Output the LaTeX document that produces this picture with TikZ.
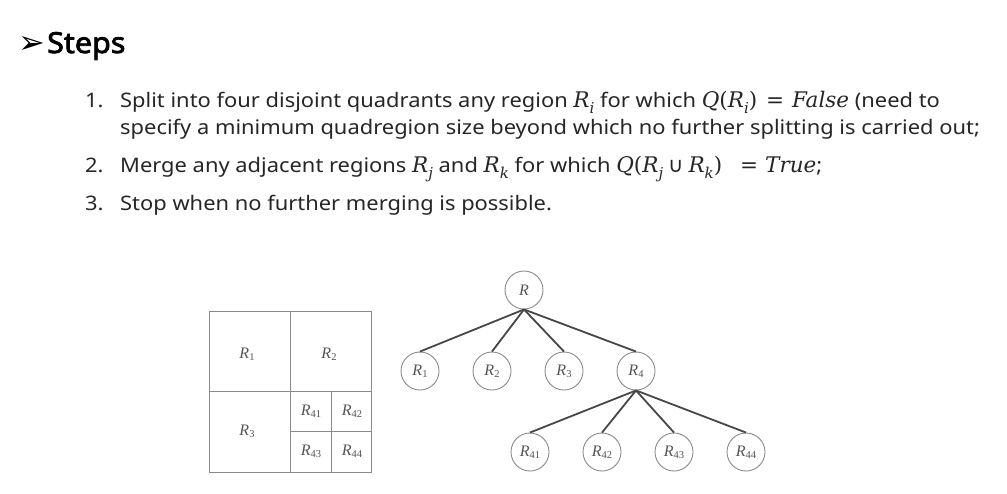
\documentclass[tikz,border=0pt]{standalone}
\usepackage{fontspec}
\setmainfont{Noto Sans}[FakeStretch=1.095]
\newfontfamily\titlef{Noto Sans}[FakeBold=2.6, FakeStretch=1.05]
\newfontfamily\dejavu{DejaVu Sans}
\newfontfamily\mathf{DejaVu Serif}
\newfontfamily\timesf{Liberation Serif}
\definecolor{gridc}{HTML}{8A8A8A}
\definecolor{labc}{HTML}{555555}
\definecolor{edgec}{HTML}{474747}
\definecolor{txtc}{HTML}{262626}
\newcommand\rlab[1]{{\timesf\fontsize{16}{16}\selectfont\itshape R}{\timesf\fontsize{10.5}{10.5}\selectfont\raisebox{-0.35ex}{#1}}}
\newcommand\mv[1]{{\mathf\itshape\fontsize{21.5}{24}\selectfont #1}}
\newcommand\mup[1]{{\mathf\fontsize{21.5}{24}\selectfont #1}}
\newcommand\msub[1]{\raisebox{-0.3em}{\mathf\itshape\fontsize{15}{15}\selectfont #1}}
\tikzset{
  body/.style={anchor=base west, inner sep=0pt, font=\fontsize{20}{24}\selectfont, text=txtc},
  glab/.style={inner sep=0pt, text=labc},
  grid line/.style={draw=gridc, line width=0.9pt},
  tnode/.style={circle, draw=gridc, line width=0.9pt, minimum size=38pt, inner sep=0pt, text=labc},
  tedge/.style={draw=edgec, line width=1.8pt}
}
\begin{document}
\begin{tikzpicture}[x=1pt,y=-1pt]
\useasboundingbox (0,0) rectangle (1007,493);
\fill[white] (0,0) rectangle (1007,493);
% title
\node[anchor=base west, inner sep=0pt] (arrow) at (18,53) {\dejavu\fontsize{32}{32}\selectfont ➢};
\node[anchor=base west, inner sep=0pt, font=\titlef\fontsize{29}{30}\selectfont] (title) at (47,53) {Steps};
% items
\node[body] (n1) at (85,107) {1.};
\node[body] (l1a) at (120,107) {Split into four disjoint quadrants any region \mv{R}\msub{i} for which \mv{Q}\mup{(}\mv{R}\msub{i}\mup{)}\kern9pt\mup{=}\kern8pt\mv{False} (need to};
\node[body] (l1b) at (120,134) {specify a minimum quadregion size beyond which no further splitting is carried out;};
\node[body] (n2) at (85,172) {2.};
\node[body] (l2) at (120,172) {Merge any adjacent regions \mv{R}\msub{j} and \mv{R}\msub{k} for which \mv{Q}\mup{(}\mv{R}\msub{j}\kern5pt{\dejavu\fontsize{21}{24}\selectfont ∪}\kern5pt\mv{R}\msub{k}\mup{)}\kern18pt\mup{=}\kern7pt\mv{True};};
\node[body] (n3) at (85,210) {3.};
\node[body] (l3) at (120,210) {Stop when no further merging is possible.};
% quadtree grid
\draw[grid line] (209,311) rectangle (371,472);
\draw[grid line] (290,311) -- (290,472);
\draw[grid line] (209,391) -- (371,391);
\draw[grid line] (331,391) -- (331,472);
\draw[grid line] (290,431) -- (371,431);
\node[glab] (g1) at (247,354) {\rlab{1}};
\node[glab] (g2) at (329,354) {\rlab{2}};
\node[glab] (g3) at (247,431) {\rlab{3}};
\node[glab] (g41) at (311,411) {\rlab{41}};
\node[glab] (g42) at (352,411) {\rlab{42}};
\node[glab] (g43) at (311,451) {\rlab{43}};
\node[glab] (g44) at (352,451) {\rlab{44}};
% tree
\node[tnode] (R) at (524,290) {{\timesf\fontsize{16}{16}\selectfont\itshape R}};
\node[tnode] (R1) at (420,371) {\rlab{1}};
\node[tnode] (R2) at (492,371) {\rlab{2}};
\node[tnode] (R3) at (564,371) {\rlab{3}};
\node[tnode] (R4) at (636,371) {\rlab{4}};
\node[tnode] (R41) at (530,452) {\rlab{41}};
\node[tnode] (R42) at (602,452) {\rlab{42}};
\node[tnode] (R43) at (674,452) {\rlab{43}};
\node[tnode] (R44) at (746,452) {\rlab{44}};
\foreach \c in {R1,R2,R3,R4} \draw[tedge] (R.south) -- (\c.north);
\foreach \c in {R41,R42,R43,R44} \draw[tedge] (R4.south) -- (\c.north);
\end{tikzpicture}
\end{document}
